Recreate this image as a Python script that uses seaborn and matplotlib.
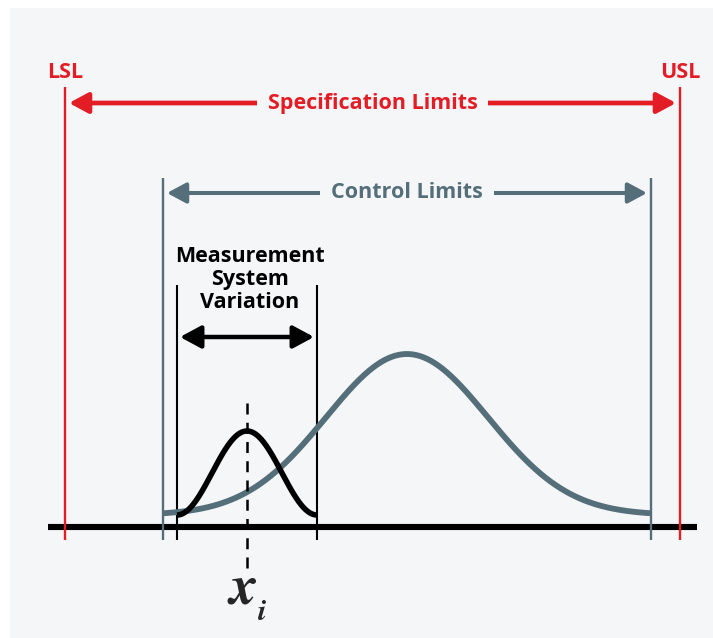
import matplotlib
matplotlib.use("Agg")
import matplotlib.pyplot as plt
import numpy as np
import pandas as pd
import seaborn as sns

# Diagram units follow the picture: x to the right, y downwards (pixels of the drawing).
SPEC_LIMITS = [65, 680]
SPEC_LABELS = ["LSL", "USL"]
CONTROL_LIMITS = [163, 651]
MSV_LIMITS = [177, 317]
MSV_TEXT = ["Measurement", "System", "Variation"]

# wide bell: process spread between the control limits
PROCESS_CENTER = 407
PROCESS_SIGMA = 81
PROCESS_HEIGHT = 161
# narrow bell: measurement system variation around x_i
MSV_CENTER = 247
MSV_HALF_WIDTH = 70
MSV_HEIGHT = 84
CURVE_FOOT = 515

AXIS_Y = 527
AXIS_SPAN = [48, 697]

RED = "#e31d25"
SLATE = "#546e7a"
PANEL = "#f5f6f8"
FS = 15.5


def main() -> None:
    sns.set_theme(style="white")
    plt.rcParams["font.family"] = ["Open Sans", "DejaVu Sans"]
    plt.rcParams["mathtext.fontset"] = "stix"

    fig = plt.figure(figsize=(7.13, 6.38), dpi=100, facecolor="white")
    ax = fig.add_axes([10 / 713, 0, 703 / 713, 630 / 638])
    ax.set_facecolor(PANEL)

    # baseline
    ax.plot(AXIS_SPAN, [AXIS_Y, AXIS_Y], color="black", lw=4.4, solid_capstyle="butt", zorder=2)

    # limit lines
    ax.vlines(SPEC_LIMITS, 87, 540, color=RED, lw=1.7, zorder=3)
    ax.vlines(CONTROL_LIMITS, 178, 540, color=SLATE, lw=1.7, zorder=3)
    ax.vlines(MSV_LIMITS, 285, 540, color="black", lw=1.5, zorder=3)

    # curves
    px = np.linspace(CONTROL_LIMITS[0], CONTROL_LIMITS[1] - 1, 400)
    process = pd.DataFrame({
        "x": px,
        "y": CURVE_FOOT - PROCESS_HEIGHT * np.exp(-0.5 * ((px - PROCESS_CENTER) / PROCESS_SIGMA) ** 2),
    })
    mx = np.linspace(MSV_LIMITS[0], MSV_LIMITS[1], 200)
    msv = pd.DataFrame({
        "x": mx,
        "y": CURVE_FOOT - MSV_HEIGHT * (1 + np.cos(np.pi * (mx - MSV_CENTER) / MSV_HALF_WIDTH)) / 2,
    })
    sns.lineplot(data=process, x="x", y="y", ax=ax, color=SLATE, lw=4.2,
                 sort=False, estimator=None, solid_capstyle="butt", zorder=4)
    sns.lineplot(data=msv, x="x", y="y", ax=ax, color="black", lw=4.0,
                 sort=False, estimator=None, solid_capstyle="butt", zorder=5)
    ax.set_xlim(10, 713)
    ax.set_ylim(638, 8)
    ax.set_axis_off()
    ax.add_patch(plt.Rectangle((10, 8), 703, 630, color=PANEL, zorder=0))

    # x_i marker
    ax.plot([MSV_CENTER, MSV_CENTER], [403, 572], color="black", lw=1.8,
            linestyle=(0, (4.4, 3.3)), zorder=6)
    ax.text(MSV_CENTER - 5, 603, r"$\boldsymbol{x}$", fontsize=40, ha="center", va="baseline")
    ax.text(MSV_CENTER + 15, 620, r"$\boldsymbol{i}$", fontsize=22, ha="center", va="baseline")

    # arrows
    def double_arrow(x0, x1, y, color, lw, scale):
        ax.annotate("", xy=(x0, y), xytext=(x1, y),
                    arrowprops=dict(arrowstyle="<|-|>,head_length=1.15,head_width=0.62",
                                    mutation_scale=scale, lw=lw, color=color,
                                    shrinkA=0, shrinkB=0), zorder=6)

    double_arrow(SPEC_LIMITS[0] + 4, SPEC_LIMITS[1] - 4, 103, RED, 3.4, 10)
    double_arrow(CONTROL_LIMITS[0] + 4, CONTROL_LIMITS[1] - 4, 193, SLATE, 2.9, 10)
    double_arrow(MSV_LIMITS[0] + 3, MSV_LIMITS[1] - 3, 337, "black", 3.2, 11)

    box = dict(boxstyle="square,pad=0.5", fc=PANEL, ec="none")
    ax.text(np.mean(SPEC_LIMITS), 103, "Specification Limits", color=RED, weight="bold",
            fontsize=FS, ha="center", va="center", bbox=box, zorder=7)
    ax.text(PROCESS_CENTER, 193, "Control Limits", color=SLATE, weight="bold",
            fontsize=FS, ha="center", va="center", bbox=box, zorder=7)
    for x, label in zip(SPEC_LIMITS, SPEC_LABELS):
        ax.text(x, 73, label, color=RED, weight="bold", fontsize=FS, ha="center", va="center")
    for i, line in enumerate(MSV_TEXT):
        ax.text(250, 257 + 22.5 * i, line, color="black", weight="bold", fontsize=FS,
                ha="center", va="center")

    fig.savefig("out.png", dpi=100)
    plt.close(fig)


if __name__ == "__main__":
    main()
